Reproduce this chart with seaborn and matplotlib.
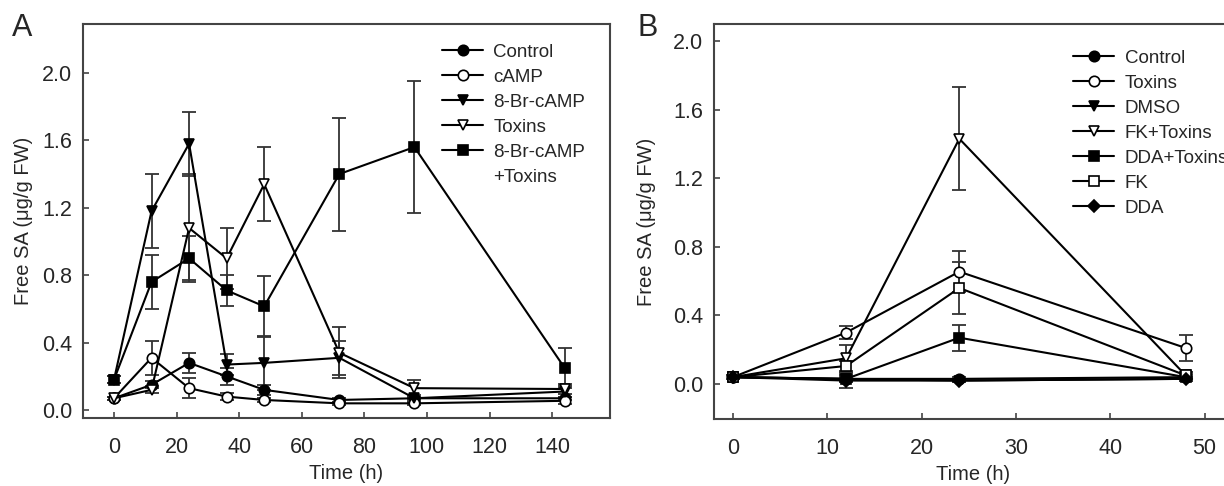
import numpy as np
import pandas as pd
import matplotlib
matplotlib.use("Agg")
import matplotlib.pyplot as plt
from matplotlib.lines import Line2D
import seaborn as sns

# panel A data
time_a = [0, 12, 24, 36, 48, 72, 96, 144]
control_a = [0.07, 0.15, 0.28, 0.20, 0.12, 0.06, 0.07, 0.07]
control_a_err = [0.01, 0.02, 0.06, 0.05, 0.03, 0.01, 0.01, 0.01]
camp_a = [0.07, 0.31, 0.13, 0.08, 0.06, 0.04, 0.04, 0.055]
camp_a_err = [0.01, 0.10, 0.06, 0.02, 0.01, 0.01, 0.01, 0.02]
br_a = [0.18, 1.18, 1.58, 0.27, 0.28, 0.31, 0.07, 0.11]
br_a_err = [0.02, 0.22, 0.19, 0.06, 0.16, 0.10, 0.02, 0.03]
toxins_a = [0.07, 0.12, 1.08, 0.90, 1.34, 0.34, 0.13, 0.125]
toxins_a_err = [0.01, 0.02, 0.32, 0.18, 0.22, 0.15, 0.05, 0.03]
brtox_a = [0.18, 0.76, 0.90, 0.71, 0.615, 1.40, 1.56, 0.25]
brtox_a_err = [0.02, 0.16, 0.13, 0.09, 0.18, 0.335, 0.39, 0.12]
labels_a = ['Control', 'cAMP', '8-Br-cAMP', 'Toxins', '8-Br-cAMP', '+Toxins']

# panel B data
time_b = [0, 12, 24, 48]
control_b = [0.04, 0.03, 0.03, 0.04]
control_b_err = [0.01, 0.01, 0.01, 0.01]
toxins_b = [0.04, 0.30, 0.655, 0.21]
toxins_b_err = [0.01, 0.04, 0.12, 0.075]
dmso_b = [0.04, 0.03, 0.02, 0.03]
dmso_b_err = [0.01, 0.02, 0.01, 0.01]
fktox_b = [0.04, 0.15, 1.43, 0.05]
fktox_b_err = [0.01, 0.08, 0.30, 0.02]
ddatox_b = [0.04, 0.03, 0.27, 0.04]
ddatox_b_err = [0.01, 0.02, 0.075, 0.02]
fk_b = [0.04, 0.105, 0.56, 0.05]
fk_b_err = [0.01, 0.03, 0.15, 0.02]
dda_b = [0.04, 0.02, 0.02, 0.03]
dda_b_err = [0.01, 0.045, 0.01, 0.01]
labels_b = ['Control', 'Toxins', 'DMSO', 'FK+Toxins', 'DDA+Toxins', 'FK', 'DDA']

sns.set_style("ticks")
plt.rcParams['font.family'] = ['Liberation Sans', 'DejaVu Sans']

SPINE = '#444444'

fig = plt.figure(figsize=(12.24, 4.86), dpi=100)
ax_a = fig.add_axes([83/1224, 68/486, 527/1224, 394/486])
ax_b = fig.add_axes([714/1224, 67/486, 518/1224, 395/486])


def draw(ax, t, y, err, marker, filled, ms=7.5):
    fc = 'black' if filled else 'white'
    ax.errorbar(t, y, yerr=err, fmt='none', ecolor='#333333', elinewidth=1.3,
                capsize=5, capthick=1.3, zorder=2)
    sns.lineplot(x=t, y=y, ax=ax, color='black', lw=1.5, marker=marker,
                 markersize=ms, markerfacecolor=fc, markeredgecolor='black',
                 markeredgewidth=1.2, errorbar=None, zorder=3, legend=False)
    return ax.lines[-1]


h_a = [
    draw(ax_a, time_a, control_a, control_a_err, 'o', True),
    draw(ax_a, time_a, camp_a, camp_a_err, 'o', False),
    draw(ax_a, time_a, br_a, br_a_err, 'v', True),
    draw(ax_a, time_a, toxins_a, toxins_a_err, 'v', False),
    draw(ax_a, time_a, brtox_a, brtox_a_err, 's', True),
]
h_b = [
    draw(ax_b, time_b, control_b, control_b_err, 'o', True),
    draw(ax_b, time_b, toxins_b, toxins_b_err, 'o', False),
    draw(ax_b, time_b, dmso_b, dmso_b_err, 'v', True),
    draw(ax_b, time_b, fktox_b, fktox_b_err, 'v', False),
    draw(ax_b, time_b, ddatox_b, ddatox_b_err, 's', True, ms=7),
    draw(ax_b, time_b, fk_b, fk_b_err, 's', False, ms=7),
    draw(ax_b, time_b, dda_b, dda_b_err, 'D', True, ms=6.5),
]

yt = np.arange(0, 2.01, 0.4)
ax_a.set_xlim(-9.9, 158.5)
ax_a.set_ylim(-0.047, 2.29)
ax_a.set_xticks(np.arange(0, 141, 20))
ax_a.set_yticks(yt)
ax_a.set_yticklabels([f"{v:.1f}" for v in yt])

ax_b.set_xlim(-2.0, 52.9)
ax_b.set_ylim(-0.204, 2.099)
ax_b.set_xticks(np.arange(0, 51, 10))
ax_b.set_yticks(yt)
ax_b.set_yticklabels([f"{v:.1f}" for v in yt])

for ax, ylp in ((ax_a, 6), (ax_b, 12)):
    for s in ax.spines.values():
        s.set_color(SPINE)
        s.set_linewidth(1.5)
    ax.tick_params(direction='in', length=4, width=1.2, color=SPINE,
                   labelsize=15.5)
    ax.tick_params(axis='y', pad=8)
    ax.tick_params(axis='x', pad=14)
    ax.set_xlabel("Time (h)", fontsize=14.5, labelpad=4)
    ax.set_ylabel("Free SA (\u03bcg/g FW)", fontsize=14.5, labelpad=ylp)

# legend A: two-line label split so the handle sits on the first line
ax_a.legend(h_a + [Line2D([], [], linestyle='none')], labels_a,
            loc='upper left', bbox_to_anchor=(0.681, 0.95),
            frameon=False, fontsize=13.5, handlelength=2.2, handletextpad=0.55,
            labelspacing=0.42, borderpad=0, borderaxespad=0)

ax_b.legend(h_b, labels_b,
            loc='upper left', bbox_to_anchor=(0.693, 0.935),
            frameon=False, fontsize=13.5, handlelength=2.2, handletextpad=0.55,
            labelspacing=0.42, borderpad=0, borderaxespad=0)

fig.text(22/1224, 1 - 28/486, "A", fontsize=22, ha='center', va='center')
fig.text(648/1224, 1 - 28/486, "B", fontsize=22, ha='center', va='center')

fig.savefig("out.png", dpi=100)
